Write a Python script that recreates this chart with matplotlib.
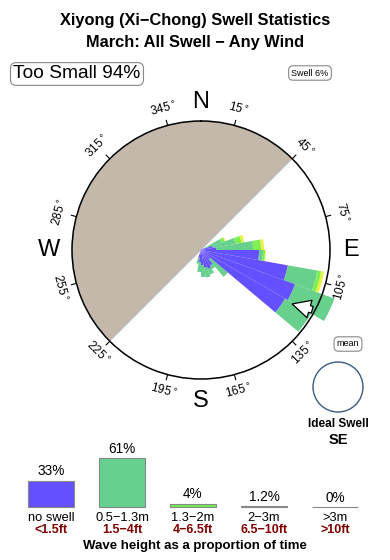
import numpy as np
import matplotlib.pyplot as plt
from matplotlib.patches import Circle

plt.rcParams['font.family'] = ['Liberation Sans', 'DejaVu Sans']

# rose data: direction bin centres (deg) and cumulative lengths (px, circle radius = 129)
dirs = [65, 75, 85, 95, 105, 115, 125, 135, 145, 155, 165, 175, 185, 195]
blue_len = [5, 12, 15, 58, 88, 100, 97, 12, 18, 20, 18, 15, 12, 8]
green_len = [22, 35, 52, 62, 118, 142, 127, 35, 22, 26, 28, 27, 22, 14]
lime_len = [25, 41, 60, 64, 122, 142, 127, 35, 22, 26, 28, 27, 22, 14]
yellow_len = [26, 44, 63, 65, 125, 142, 127, 35, 22, 26, 28, 27, 22, 14]
rose_px = 129.0

# height histogram
cats = ['no swell', '0.5\u22121.3m', '1.3\u22122m', '2\u22123m', '>3m']
feet = ['<1.5ft', '1.5\u22124ft', '4\u22126.5ft', '6.5\u221210ft', '>10ft']
pct = [33, 61, 4, 1.2, 0]
pct_lbl = ['33%', '61%', '4%', '1.2%', '0%']
bar_cols = ['#6450ff', '#66d08e', '#70f050', '#8a8a30', '#c8aaa0']

W, H = 390, 560
fig = plt.figure(figsize=(W / 100, H / 100), dpi=100)

# overlay in pixel coords
ov = fig.add_axes([0, 0, 1, 1])
ov.set_xlim(0, W)
ov.set_ylim(H, 0)
ov.axis('off')

ov.text(195, 20, 'Xiyong (Xi\u2212Chong) Swell Statistics', ha='center', va='center',
        fontsize=11.8, fontweight='bold')
ov.text(195, 42, 'March: All Swell \u2212 Any Wind', ha='center', va='center',
        fontsize=11.8, fontweight='bold')
ov.text(77, 74, 'Too Small 94%', ha='center', va='center', fontsize=13.8,
        bbox=dict(boxstyle='round,pad=0.15,rounding_size=0.3', fc='white', ec='#888888', lw=0.8))
ov.text(310, 73, 'Swell 6%', ha='center', va='center', fontsize=6.5,
        bbox=dict(boxstyle='round,pad=0.3,rounding_size=0.5', fc='white', ec='#888888', lw=0.8))
ov.text(348, 344, 'mean', ha='center', va='center', fontsize=6.5,
        bbox=dict(boxstyle='round,pad=0.3,rounding_size=0.5', fc='white', ec='#888888', lw=0.8))
ov.add_patch(Circle((338, 387), 25, fc='white', ec='#3a5a80', lw=1))
ov.text(338, 424, 'Ideal Swell', ha='center', va='center', fontsize=8.5, fontweight='bold')
ov.text(338, 440, 'SE', ha='center', va='center', fontsize=10.5, fontweight='bold')
ov.text(195, 546, 'Wave height as a proportion of time', ha='center', va='center',
        fontsize=9.5, fontweight='bold')

# rose
cx, cy, R = 201, 250, rose_px
ax = fig.add_axes([(cx - R) / W, (H - cy - R) / H, 2 * R / W, 2 * R / H], projection='polar')
ax.set_theta_zero_location('N')
ax.set_theta_direction(-1)
ax.set_ylim(0, 1)
ax.grid(False)
ax.set_xticks([])
ax.set_yticks([])
ax.set_facecolor('white')
ax.spines['polar'].set_linewidth(1.1)

# shaded "not exposed" half
ax.bar(np.radians(315), 1, width=np.radians(180), bottom=0, color='#c4b8ab',
       edgecolor='#b8c4d0', lw=0.6, zorder=1)

th = np.radians(dirs)
wd = np.radians(10)
b = np.array(blue_len) / R
g = np.array(green_len) / R
l = np.array(lime_len) / R
y = np.array(yellow_len) / R
ax.bar(th, y - l, width=wd, bottom=l, color='#eef040', lw=0, clip_on=False, zorder=2)
ax.bar(th, l - g, width=wd, bottom=g, color='#80f050', lw=0, clip_on=False, zorder=2)
ax.bar(th, g - b, width=wd, bottom=b, color='#66d08c', lw=0, clip_on=False, zorder=2)
ax.bar(th, b, width=wd, bottom=0, color='#6450ff', lw=0, clip_on=False, zorder=2)

# mean direction arrow
ax.annotate('', xy=(np.radians(121), 0.80), xytext=(np.radians(118), 1.0),
            arrowprops=dict(arrowstyle='simple,head_length=1.3,head_width=1.3,tail_width=0.5',
                            fc='white', ec='black', lw=0.9), zorder=5)

# degree labels and ticks
for d in range(15, 360, 30):
    t = np.radians(d)
    ax.plot([t, t], [1.0, 1.04], color='black', lw=0.8, clip_on=False)
    rot = -d
    while rot <= -90:
        rot += 180
    while rot > 90:
        rot -= 180
    ax.text(t, 1.13, f'{d}$^\\circ$', ha='center', va='center', rotation=rot,
            rotation_mode='anchor', fontsize=8.5, clip_on=False)

for lab, d, r in [('N', 0, 1.15), ('E', 90, 1.16), ('S', 180, 1.17), ('W', 270, 1.18)]:
    ax.text(np.radians(d), r, lab, ha='center', va='center', fontsize=17, clip_on=False)

# height histogram
bx = fig.add_axes([0, (H - 507) / H, 1, 67 / H])
x = np.arange(len(cats))
bx.set_xlim(-51 / 71, (W - 51) / 71)
bx.set_ylim(0, 67 / 0.8)
bx.axis('off')
bx.bar(x, pct, width=46 / 71, color=bar_cols, edgecolor='#888888', lw=0.8, clip_on=False)
for i in range(len(cats)):
    bx.text(x[i], pct[i] + 3, pct_lbl[i], ha='center', va='bottom', fontsize=9.8)
    bx.text(x[i], -0.16, cats[i], ha='center', va='center', fontsize=9.3,
            transform=bx.get_xaxis_transform())
    bx.text(x[i], -0.35, feet[i], ha='center', va='center', fontsize=9, fontweight='bold',
            color='#800000', transform=bx.get_xaxis_transform())

fig.savefig('out.png', dpi=100)
